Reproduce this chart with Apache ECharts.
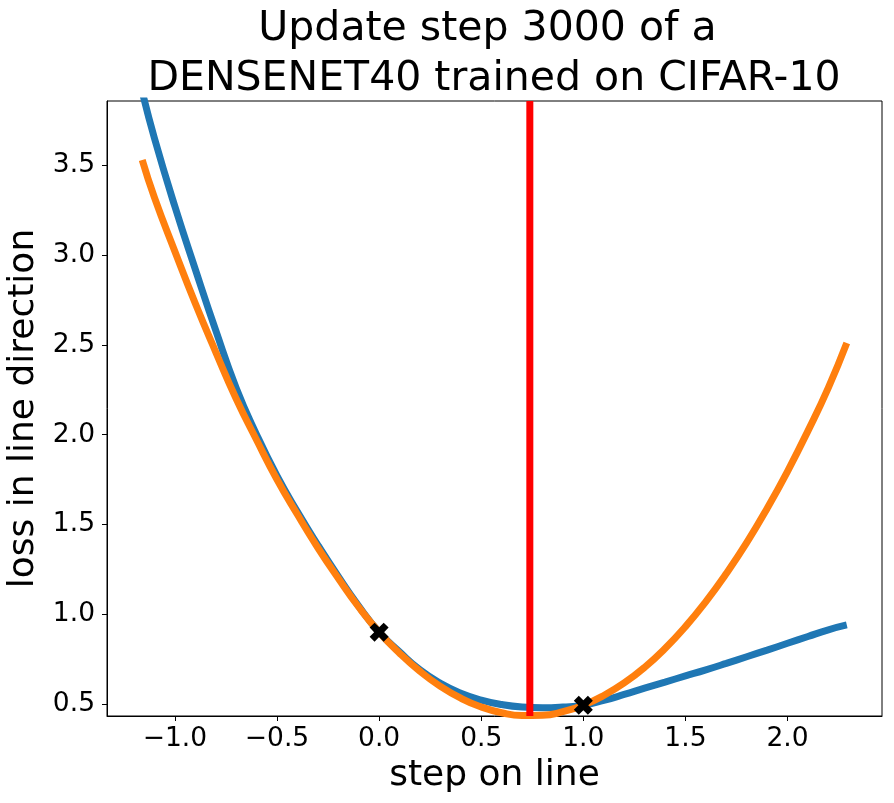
<!DOCTYPE html>
<html>
<head>
    <meta charset="utf-8">
    <title>Line search step</title>
    <script src="https://cdn.jsdelivr.net/npm/echarts@6.0.0/dist/echarts.min.js"></script>
    <style>
        html, body { margin: 0; padding: 0; background: #fff; }
    </style>
</head>
<body>
<div id="main" style="width: 894px; height: 803px;"></div>
<script type="text/javascript">
    // step positions along the line
    var steps = [-1.16, -1.1, -1.0, -0.9, -0.8, -0.7, -0.6, -0.5, -0.4, -0.3, -0.2, -0.1,
        0.0, 0.1, 0.2, 0.3, 0.4, 0.5, 0.6, 0.7, 0.8, 0.9, 1.0, 1.1, 1.2, 1.3, 1.4, 1.5,
        1.6, 1.7, 1.8, 1.9, 2.0, 2.1, 2.2, 2.29];
    // measured loss along the line (blue)
    var lossLine = [3.91, 3.65, 3.27, 2.92, 2.58, 2.26, 2.00, 1.77, 1.57, 1.385, 1.21, 1.045,
        0.90, 0.79, 0.69, 0.615, 0.56, 0.522, 0.497, 0.483, 0.479, 0.483, 0.493, 0.52, 0.553,
        0.588, 0.622, 0.656, 0.69, 0.726, 0.763, 0.80, 0.838, 0.876, 0.913, 0.94];
    // parabolic approximation (orange)
    var lossParabola = [3.53, 3.32, 3.02, 2.73, 2.46, 2.20, 1.97, 1.75, 1.555, 1.37, 1.20, 1.04,
        0.90, 0.783, 0.682, 0.598, 0.532, 0.483, 0.451, 0.436, 0.437, 0.457, 0.493, 0.547, 0.617,
        0.704, 0.809, 0.931, 1.07, 1.226, 1.398, 1.589, 1.796, 2.021, 2.262, 2.51];
    // sampled points and chosen step
    var samplePoints = [[0.0, 0.9], [1.0, 0.493]];
    var chosenStep = 0.738;

    var xTicks = [-1.0, -0.5, 0.0, 0.5, 1.0, 1.5, 2.0];
    var yTicks = [0.5, 1.0, 1.5, 2.0, 2.5, 3.0, 3.5];
    var xRange = [-1.3325, 2.4625];
    var yRange = [0.433, 3.858];

    var font = 'DejaVu Sans';
    var crossPath = 'path://M0,2.6 L2.6,0 L5,2.4 L7.4,0 L10,2.6 L7.6,5 L10,7.4 L7.4,10 L5,7.6 L2.6,10 L0,7.4 L2.4,5 Z';

    function pair(xs, ys) {
        var d = [];
        for (var i = 0; i < xs.length; i++) d.push([xs[i], ys[i]]);
        return d;
    }
    function fmt(v) {
        return v.toFixed(1).replace('-', '\u2212');
    }

    var myChart = echarts.init(document.getElementById('main'));

    var option = {
        backgroundColor: '#fff',
        animation: false,
        title: {
            text: 'Update step 3000 of a \nDENSENET40 trained on CIFAR-10',
            left: 494,
            top: 4,
            padding: 0,
            textAlign: 'center',
            textStyle: {
                fontFamily: font,
                fontSize: 41,
                fontWeight: 'normal',
                color: '#000',
                lineHeight: 50
            }
        },
        grid: {
            left: 107,
            right: 12,
            top: 101,
            bottom: 87,
            show: true,
            borderColor: '#000',
            borderWidth: 1,
            outerBoundsMode: 'none'
        },
        xAxis: {
            type: 'value',
            min: xRange[0],
            max: xRange[1],
            splitLine: { show: false },
            axisLine: { show: true, onZero: false, lineStyle: { color: '#000', width: 1 } },
            axisTick: { show: true, length: 5, customValues: xTicks, lineStyle: { color: '#000', width: 1 } },
            axisLabel: {
                customValues: xTicks,
                formatter: fmt,
                fontFamily: font,
                fontSize: 26.5,
                color: '#000',
                margin: 10
            },
            name: 'step on line',
            nameLocation: 'middle',
            nameGap: 38,
            nameTextStyle: { fontFamily: font, fontSize: 36, color: '#000' }
        },
        yAxis: {
            type: 'value',
            min: yRange[0],
            max: yRange[1],
            splitLine: { show: false },
            axisLine: { show: true, onZero: false, lineStyle: { color: '#000', width: 1 } },
            axisTick: { show: true, length: 5, customValues: yTicks, lineStyle: { color: '#000', width: 1 } },
            axisLabel: {
                customValues: yTicks,
                formatter: fmt,
                fontFamily: font,
                fontSize: 26.5,
                color: '#000',
                margin: 12
            },
            name: 'loss in line direction',
            nameLocation: 'middle',
            nameGap: 62,
            nameRotate: 90,
            nameTextStyle: { fontFamily: font, fontSize: 36, color: '#000' }
        },
        series: [
            {
                name: 'loss',
                type: 'line',
                data: pair(steps, lossLine),
                showSymbol: false,
                smooth: true,
                clip: true,
                lineStyle: { color: '#1f77b4', width: 7 }
            },
            {
                name: 'parabola',
                type: 'line',
                data: pair(steps, lossParabola),
                showSymbol: false,
                smooth: true,
                clip: true,
                lineStyle: { color: '#ff7f0e', width: 7 }
            },
            {
                name: 'step',
                type: 'line',
                data: [[chosenStep, yRange[0]], [chosenStep, yRange[1]]],
                showSymbol: false,
                clip: true,
                lineStyle: { color: '#ff0000', width: 7 }
            },
            {
                name: 'samples',
                type: 'scatter',
                data: samplePoints,
                symbol: crossPath,
                symbolSize: 19,
                itemStyle: { color: '#000', opacity: 1 },
                z: 5
            }
        ]
    };

    myChart.setOption(option);
</script>
</body>
</html>
